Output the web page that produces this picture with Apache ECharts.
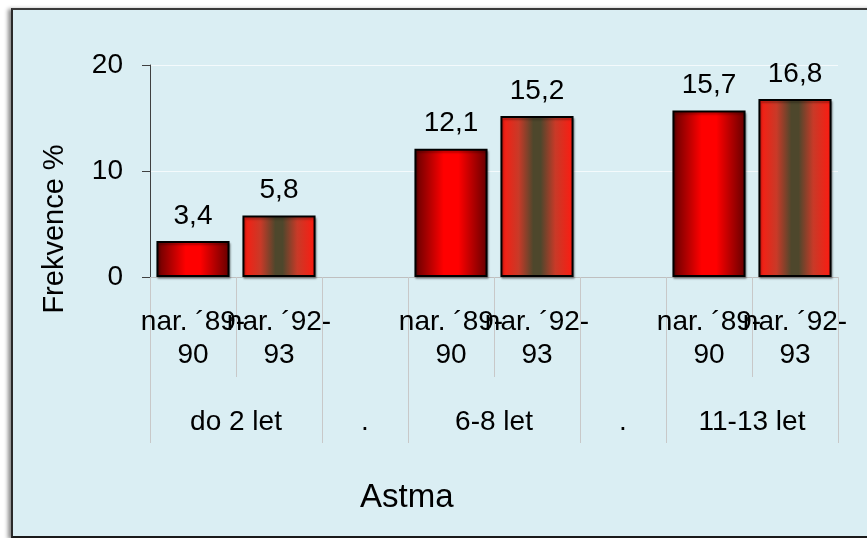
<!DOCTYPE html>
<html>
<head>
<meta charset="utf-8">
<script src="https://cdn.jsdelivr.net/npm/echarts@6.0.0/dist/echarts.min.js"></script>
<style>
html, body { margin: 0; padding: 0; background: #fff; }
#wrap { position: relative; width: 867px; height: 538px; overflow: hidden; }
#panel {
    position: absolute; left: 11px; top: 8px; width: 870px; height: 526px;
    background: #daeef3;
    border-top: 2px solid #3a3a3a; border-left: 2px solid #2a2a2a; border-bottom: 2px solid #1a1a1a;
    box-shadow: -3px 1px 4px rgba(0,0,0,0.45);
}
#chart { position: absolute; left: 0; top: 0; width: 867px; height: 538px; }
</style>
</head>
<body>
<div id="wrap">
    <div id="panel"></div>
    <div id="chart"></div>
</div>
<script>
// hodnoty z grafu (Frekvence %)
const ageGroups = ['do 2 let', '6-8 let', '11-13 let'];
const cohorts = ['nar. ´89-90', 'nar. ´92-93'];
const cohort8990 = [3.4, 12.1, 15.7];
const cohort9293 = [5.8, 15.2, 16.8];
const yMin = 0, yMax = 20, yStep = 10;

const FONT = '"Liberation Sans", Arial, sans-serif';

// build slots: 2 cohorts per group, empty slot between groups
let slotLabels = [];
let s8990 = [], s9293 = [];
let nSlots = ageGroups.length * cohorts.length + ageGroups.length - 1;
let groupAxis = new Array(nSlots * 2 + 1).fill('');
let groupTicks = new Set([0]);
let s = 0;
ageGroups.forEach((g, i) => {
    cohorts.forEach(c => slotLabels.push(c.replace('-', '-\n')));
    s8990.push(cohort8990[i], null);
    s9293.push(null, cohort9293[i]);
    groupAxis[s * 2 + cohorts.length] = g;
    s += cohorts.length;
    groupTicks.add(s * 2);
    if (i < ageGroups.length - 1) {
        slotLabels.push('');
        s8990.push(null);
        s9293.push(null);
        groupAxis[s * 2 + 1] = '.';
        s += 1;
        groupTicks.add(s * 2);
    }
});

let myChart = echarts.init(document.getElementById('chart'));

const barLabel = {
    show: true,
    position: 'top',
    distance: 11,
    fontSize: 28,
    fontFamily: FONT,
    color: '#000',
    formatter: p => String(p.value).replace('.', ',')
};

myChart.setOption({
    backgroundColor: 'transparent',
    animation: false,
    textStyle: { fontFamily: FONT },
    title: {
        text: 'Astma',
        left: 360,
        top: 481,
        padding: 0,
        textStyle: { fontSize: 33, fontWeight: 'normal', color: '#000', fontFamily: FONT }
    },
    graphic: [{
        type: 'text',
        x: 55,
        y: 229,
        rotation: Math.PI / 2,
        style: {
            text: 'Frekvence %',
            fontSize: 29,
            fontFamily: FONT,
            fill: '#000',
            align: 'center',
            verticalAlign: 'middle'
        }
    }],
    grid: { left: 150, right: 29, top: 65, bottom: 261 },
    xAxis: [
        {
            type: 'category',
            data: slotLabels,
            position: 'bottom',
            axisLine: { lineStyle: { color: '#bfbfbf', width: 1 } },
            axisTick: { show: true, interval: 0, length: 100, lineStyle: { color: '#c8c8c8' } },
            axisLabel: {
                interval: 0,
                margin: 29,
                fontSize: 28,
                lineHeight: 33,
                color: '#000',
                fontFamily: FONT
            }
        },
        {
            type: 'category',
            data: groupAxis,
            position: 'bottom',
            boundaryGap: false,
            axisLine: { show: false },
            axisTick: {
                show: true,
                interval: (idx) => groupTicks.has(idx),
                length: 166,
                lineStyle: { color: '#c8c8c8' }
            },
            axisLabel: {
                interval: (idx, val) => val !== '',
                margin: 129,
                fontSize: 28,
                lineHeight: 33,
                color: '#000',
                fontFamily: FONT
            }
        }
    ],
    yAxis: {
        type: 'value',
        min: yMin,
        max: yMax,
        interval: yStep,
        axisLine: { show: true, lineStyle: { color: '#404040' } },
        axisTick: { show: true, length: 8, lineStyle: { color: '#404040' } },
        axisLabel: { margin: 27, fontSize: 28, color: '#000', fontFamily: FONT },
        splitLine: { show: true, lineStyle: { color: '#f4fafc', width: 1 } }
    },
    series: [
        {
            name: cohorts[0],
            type: 'bar',
            data: s8990,
            barWidth: '85%',
            barGap: '-100%',
            itemStyle: {
                color: new echarts.graphic.LinearGradient(0, 0, 1, 0, [
                    { offset: 0, color: '#640000' },
                    { offset: 0.4, color: '#ff0000' },
                    { offset: 0.6, color: '#ff0000' },
                    { offset: 1, color: '#640000' }
                ]),
                borderColor: '#000',
                borderWidth: 2,
                shadowColor: 'rgba(0,0,0,0.3)',
                shadowBlur: 2,
                shadowOffsetX: 1,
                shadowOffsetY: 2
            },
            label: barLabel
        },
        {
            name: cohorts[1],
            type: 'bar',
            data: s9293,
            barWidth: '85%',
            itemStyle: {
                color: new echarts.graphic.LinearGradient(0, 0, 1, 0, [
                    { offset: 0, color: '#ff1a10' },
                    { offset: 0.25, color: '#c83a28' },
                    { offset: 0.45, color: '#4e472c' },
                    { offset: 0.55, color: '#4e472c' },
                    { offset: 0.75, color: '#c83a28' },
                    { offset: 1, color: '#ff1a10' }
                ]),
                borderColor: '#000',
                borderWidth: 2,
                shadowColor: 'rgba(0,0,0,0.3)',
                shadowBlur: 2,
                shadowOffsetX: 1,
                shadowOffsetY: 2
            },
            label: barLabel
        }
    ]
});
</script>
</body>
</html>
